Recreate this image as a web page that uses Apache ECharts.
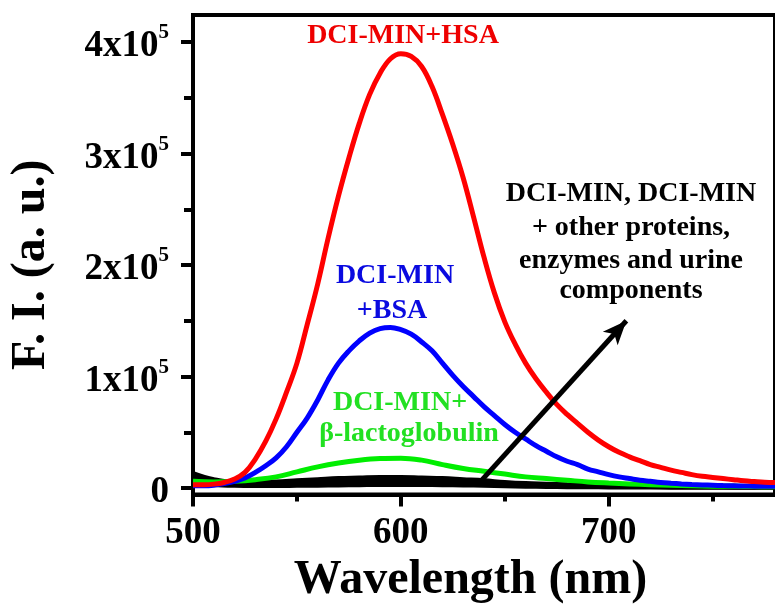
<!DOCTYPE html>
<html>
<head>
<meta charset="utf-8">
<script src="https://cdn.jsdelivr.net/npm/echarts@6/dist/echarts.min.js"></script>
<style>
html,body{margin:0;padding:0;background:#fff;}
#chart{width:775px;height:615px;}
</style>
</head>
<body>
<div id="chart"></div>
<script>
// Values of F. I. are in units of 10^5 (a. u.)
const xTickLabels = [500, 600, 700];
const xMinorTicks = [550, 650, 750];
const yTickLabels = [0, 1, 2, 3, 4];
const yMinorTicks = [0.5, 1.5, 2.5, 3.5];

const wl5 = [500,505,510,515,520,525,530,535,540,545,550,555,560,565,570,575,580,585,590,595,600,605,610,615,620,625,630,635,640,645,650,655,660,665,670,675,680,685,690,695,700,705,710,715,720,725,730,735,740,745,750,755,760,765,770,775,780];
const redFI = [0.03,0.03,0.035,0.05,0.08,0.14,0.26,0.42,0.62,0.86,1.12,1.47,1.83,2.24,2.62,2.96,3.27,3.53,3.72,3.85,3.895,3.87,3.78,3.60,3.35,3.08,2.78,2.43,2.07,1.75,1.49,1.29,1.12,0.98,0.86,0.75,0.66,0.58,0.50,0.43,0.37,0.32,0.28,0.245,0.21,0.185,0.16,0.14,0.12,0.105,0.095,0.085,0.075,0.065,0.058,0.052,0.05];
const blueFI = [0.02,0.02,0.025,0.04,0.06,0.09,0.14,0.20,0.27,0.37,0.50,0.63,0.79,0.97,1.12,1.23,1.32,1.39,1.43,1.44,1.42,1.38,1.31,1.23,1.12,1.01,0.91,0.82,0.73,0.65,0.57,0.50,0.44,0.38,0.33,0.28,0.24,0.21,0.17,0.145,0.12,0.10,0.085,0.07,0.06,0.05,0.043,0.037,0.032,0.028,0.025,0.022,0.02,0.018,0.017,0.016,0.015];

const wl10 = [500,510,520,530,540,550,560,570,580,590,600,610,620,630,640,650,660,670,680,690,700,710,720,730,740,750,760,770,780];
const greenFI = [0.06,0.055,0.06,0.075,0.10,0.145,0.19,0.225,0.25,0.265,0.268,0.25,0.21,0.175,0.15,0.125,0.10,0.085,0.07,0.055,0.045,0.037,0.03,0.025,0.02,0.017,0.015,0.013,0.012];
const black1FI = [0.13,0.075,0.05,0.05,0.055,0.065,0.075,0.085,0.09,0.095,0.095,0.09,0.085,0.075,0.065,0.05,0.04,0.035,0.03,0.026,0.022,0.02,0.018,0.017,0.016,0.015,0.015,0.014,0.014];
const black2FI = [0.09,0.05,0.035,0.035,0.038,0.045,0.05,0.055,0.06,0.062,0.062,0.06,0.055,0.05,0.045,0.035,0.028,0.024,0.02,0.017,0.015,0.014,0.013,0.012,0.011,0.011,0.01,0.01,0.01];
const black3FI = [0.05,0.032,0.024,0.022,0.022,0.024,0.026,0.028,0.03,0.032,0.032,0.031,0.03,0.028,0.025,0.02,0.017,0.014,0.012,0.011,0.01,0.009,0.009,0.008,0.008,0.008,0.007,0.007,0.007];

// arrow annotation (data coordinates: wavelength, F.I. x10^5)
const arrowStart = [637.5, 0.042];
const arrowEnd = [708.5, 1.50];

const FONT = '"Liberation Serif", "Times New Roman", serif';

function pairs(xs, ys) { return xs.map((x, i) => [x, ys[i]]); }

function lineSeries(name, xs, ys, color, extra) {
  return Object.assign({
    name: name,
    type: 'line',
    data: pairs(xs, ys),
    showSymbol: false,
    symbol: 'none',
    smooth: 0.4,
    lineStyle: { color: color, width: 5 },
    itemStyle: { color: color },
    silent: true,
    animation: false
  }, extra || {});
}

const chart = echarts.init(document.getElementById('chart'), null, { renderer: 'canvas' });

const option = {
  backgroundColor: '#ffffff',
  animation: false,
  grid: {
    left: 190, right: -7, top: 15, bottom: 120.5,
    show: true, borderColor: '#000', borderWidth: 4, backgroundColor: 'transparent'
  },
  xAxis: [
    {
      type: 'value', min: 500, max: 780, position: 'bottom',
      axisLine: { show: true, onZero: false, lineStyle: { color: '#000', width: 4 } },
      axisTick: { show: true, inside: false, length: 12, customValues: xTickLabels, lineStyle: { color: '#000', width: 4 } },
      axisLabel: { customValues: xTickLabels, margin: 20, color: '#000', fontFamily: FONT, fontWeight: 'bold', fontSize: 37 },
      splitLine: { show: false },
      name: 'Wavelength (nm)', nameLocation: 'middle', nameGap: 56,
      nameTextStyle: { color: '#000', fontFamily: FONT, fontWeight: 'bold', fontSize: 48, padding: [0, 27, 0, 0] }
    },
    {
      type: 'value', min: 500, max: 780, position: 'bottom',
      axisLine: { show: false, onZero: false },
      axisTick: { show: true, inside: false, length: 7, customValues: xMinorTicks, lineStyle: { color: '#000', width: 4 } },
      axisLabel: { show: false },
      splitLine: { show: false }
    }
  ],
  yAxis: [
    {
      type: 'value', min: -0.058, max: 4.242, position: 'left',
      axisLine: { show: true, onZero: false, lineStyle: { color: '#000', width: 4 } },
      axisTick: { show: true, inside: false, length: 12, customValues: yTickLabels, lineStyle: { color: '#000', width: 4 } },
      axisLabel: {
        customValues: yTickLabels, margin: 24, padding: [9, 0, 0, 0],
        formatter: function (v) {
          if (Math.abs(v) < 1e-9) return '{m|0}';
          return '{m|' + Math.round(v) + 'x10}{s|5}';
        },
        rich: {
          m: { fontFamily: FONT, fontWeight: 'bold', fontSize: 37, lineHeight: 48, color: '#000' },
          s: { fontFamily: FONT, fontWeight: 'bold', fontSize: 21, lineHeight: 10, verticalAlign: 'top', color: '#000' }
        }
      },
      splitLine: { show: false },
      name: 'F. I. (a. u.)', nameLocation: 'middle', nameGap: 137,
      nameTextStyle: { color: '#000', fontFamily: FONT, fontWeight: 'bold', fontSize: 48, padding: [0, 20, 0, 0] }
    },
    {
      type: 'value', min: -0.058, max: 4.242, position: 'left',
      axisLine: { show: false, onZero: false },
      axisTick: { show: true, inside: false, length: 9, customValues: yMinorTicks, lineStyle: { color: '#000', width: 4 } },
      axisLabel: { show: false },
      splitLine: { show: false }
    }
  ],
  series: [
    lineSeries('DCI-MIN (1)', wl10, black1FI, '#000000', {
      markLine: {
        silent: true,
        animation: false,
        symbol: ['none', 'arrow'],
        symbolSize: [15, 24],
        label: { show: false },
        lineStyle: { color: '#000', width: 5, type: 'solid' },
        data: [[{ coord: arrowStart }, { coord: arrowEnd }]]
      }
    }),
    lineSeries('DCI-MIN (2)', wl10, black2FI, '#000000'),
    lineSeries('DCI-MIN (3)', wl10, black3FI, '#000000'),
    lineSeries('DCI-MIN+β-lactoglobulin', wl10, greenFI, '#00ee00'),
    lineSeries('DCI-MIN+BSA', wl5, blueFI, '#0000ff'),
    lineSeries('DCI-MIN+HSA', wl5, redFI, '#ff0000')
  ],
  graphic: [
    { type: 'text', x: 403, y: 36, silent: true, style: { text: 'DCI-MIN+HSA', font: 'bold 28px ' + FONT, fill: '#ee0000', align: 'center', verticalAlign: 'middle' } },
    { type: 'text', x: 395, y: 276, silent: true, style: { text: 'DCI-MIN', font: 'bold 28px ' + FONT, fill: '#0a0ae0', align: 'center', verticalAlign: 'middle' } },
    { type: 'text', x: 392, y: 311, silent: true, style: { text: '+BSA', font: 'bold 28px ' + FONT, fill: '#0a0ae0', align: 'center', verticalAlign: 'middle' } },
    { type: 'text', x: 400, y: 403, silent: true, style: { text: 'DCI-MIN+', font: 'bold 28px ' + FONT, fill: '#22e022', align: 'center', verticalAlign: 'middle' } },
    { type: 'text', x: 409, y: 434, silent: true, style: { text: 'β-lactoglobulin', font: 'bold 28px ' + FONT, fill: '#22e022', align: 'center', verticalAlign: 'middle' } },
    { type: 'text', x: 631, y: 194, silent: true, style: { text: 'DCI-MIN, DCI-MIN', font: 'bold 28px ' + FONT, fill: '#000', align: 'center', verticalAlign: 'middle' } },
    { type: 'text', x: 631, y: 228, silent: true, style: { text: '+ other proteins,', font: 'bold 28px ' + FONT, fill: '#000', align: 'center', verticalAlign: 'middle' } },
    { type: 'text', x: 631, y: 261, silent: true, style: { text: 'enzymes and urine', font: 'bold 28px ' + FONT, fill: '#000', align: 'center', verticalAlign: 'middle' } },
    { type: 'text', x: 631, y: 291, silent: true, style: { text: 'components', font: 'bold 28px ' + FONT, fill: '#000', align: 'center', verticalAlign: 'middle' } }
  ]
};

chart.setOption(option);
</script>
</body>
</html>
